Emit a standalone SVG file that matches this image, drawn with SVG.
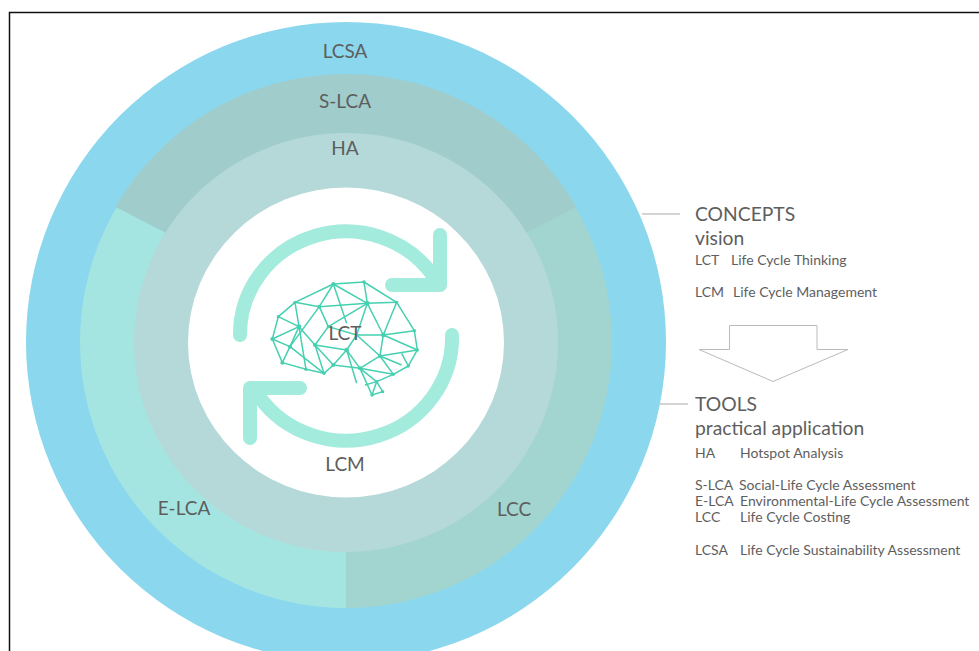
<svg xmlns="http://www.w3.org/2000/svg" width="979" height="651" viewBox="0 0 979 651">
<style>
text{font-family:Lato,"Liberation Sans",sans-serif;fill:#5e5e5e}
.m{font-size:19px;text-anchor:middle}
.h{font-size:19.3px}
.s{font-size:14px}
.b line{stroke:#45d0b0;stroke-width:4.5}
.b circle{fill:#45d0b0}
.a{fill:none;stroke:#a3ebdc;stroke-width:14;stroke-linecap:round;stroke-linejoin:round}
</style>
<rect width="979" height="651" fill="#fff"/>
<path d="M9.500 651V12.500H979" fill="none" stroke="#111" stroke-width="1.500"/>
<g id="connectors">
<path d="M642 214H680M660 404H688" fill="none" stroke="#aaa" stroke-width="1.200"/>
</g>
<g id="lcsa"><circle cx="346" cy="342" r="320" fill="#8ad7ee"/><text class="m" x="345" y="58">LCSA</text></g>
<g id="e-lca"><path d="M346 342L346 76A266 266 0 0 0 346 608Z" fill="#a5e5e1"/><text class="m" x="184" y="515">E-LCA</text></g>
<g id="lcc"><path d="M346 342L346 76A266 266 0 0 1 346 608Z" fill="#a3d5d0"/></g>
<g id="s-lca"><path d="M346 326L115.600 207A266 266 0 0 1 576.400 207Z" fill="#a0cdcc"/><text class="m" x="345" y="108">S-LCA</text></g>
<g id="ha"><ellipse cx="346" cy="342.500" rx="212" ry="209.500" fill="#b5d8d8"/><text class="m" x="345" y="155">HA</text></g>
<g id="lcm"><ellipse cx="346" cy="342.500" rx="158" ry="155" fill="#fff"/>
<path class="a" d="M240 335A106 103 0 0 1 434 277M440 235V285H392"/>
<path class="a" d="M452 335A106 103 0 0 1 258 395M300 388H250V438"/>
<text class="m" x="345" y="471">LCM</text></g>
<text class="m" x="514" y="516">LCC</text>
<g id="lct">
<g class="b" transform="translate(200 210) scale(.3333)">
<line x1="400" y1="222" x2="492" y2="216"/><line x1="492" y1="216" x2="590" y2="277"/><line x1="590" y1="277" x2="643" y2="362"/><line x1="643" y1="362" x2="652" y2="420"/><line x1="652" y1="420" x2="625" y2="468"/><line x1="625" y1="468" x2="580" y2="493"/><line x1="580" y1="493" x2="530" y2="515"/><line x1="530" y1="515" x2="548" y2="545"/><line x1="548" y1="545" x2="516" y2="555"/><line x1="516" y1="555" x2="480" y2="475"/><line x1="480" y1="475" x2="400" y2="465"/><line x1="400" y1="465" x2="372" y2="490"/><line x1="372" y1="490" x2="318" y2="478"/><line x1="318" y1="478" x2="247" y2="458"/><line x1="247" y1="458" x2="217" y2="387"/><line x1="217" y1="387" x2="235" y2="320"/><line x1="235" y1="320" x2="285" y2="277"/><line x1="285" y1="277" x2="400" y2="222"/>
<line x1="285" y1="277" x2="297" y2="350"/><line x1="235" y1="320" x2="297" y2="350"/><line x1="217" y1="387" x2="297" y2="350"/><line x1="217" y1="387" x2="270" y2="410"/><line x1="247" y1="458" x2="270" y2="410"/><line x1="270" y1="410" x2="297" y2="350"/><line x1="270" y1="410" x2="358" y2="290"/><line x1="285" y1="277" x2="358" y2="290"/><line x1="358" y1="290" x2="400" y2="222"/><line x1="358" y1="290" x2="502" y2="280"/><line x1="400" y1="222" x2="502" y2="280"/><line x1="492" y1="216" x2="502" y2="280"/><line x1="502" y1="280" x2="590" y2="277"/><line x1="502" y1="280" x2="550" y2="375"/><line x1="590" y1="277" x2="550" y2="375"/><line x1="550" y1="375" x2="643" y2="362"/><line x1="550" y1="375" x2="652" y2="420"/><line x1="550" y1="375" x2="540" y2="438"/><line x1="550" y1="375" x2="470" y2="375"/><line x1="502" y1="280" x2="470" y2="375"/><line x1="502" y1="280" x2="385" y2="350"/><line x1="400" y1="222" x2="440" y2="340"/><line x1="358" y1="290" x2="385" y2="350"/><line x1="385" y1="350" x2="470" y2="375"/><line x1="297" y1="350" x2="345" y2="405"/><line x1="345" y1="405" x2="385" y2="350"/><line x1="345" y1="405" x2="440" y2="420"/><line x1="470" y1="375" x2="440" y2="420"/><line x1="297" y1="350" x2="318" y2="478"/><line x1="270" y1="410" x2="372" y2="490"/><line x1="345" y1="405" x2="372" y2="490"/><line x1="345" y1="405" x2="400" y2="465"/><line x1="440" y1="420" x2="400" y2="465"/><line x1="440" y1="420" x2="480" y2="475"/><line x1="470" y1="375" x2="540" y2="438"/><line x1="540" y1="438" x2="480" y2="475"/><line x1="540" y1="438" x2="580" y2="493"/><line x1="540" y1="438" x2="652" y2="420"/><line x1="540" y1="438" x2="605" y2="465"/><line x1="625" y1="468" x2="605" y2="430"/><line x1="480" y1="475" x2="530" y2="515"/><line x1="480" y1="475" x2="580" y2="493"/><line x1="440" y1="420" x2="470" y2="520"/><line x1="495" y1="525" x2="530" y2="515"/><line x1="516" y1="555" x2="530" y2="515"/>
<circle cx="400" cy="222" r="6"/><circle cx="492" cy="216" r="5"/><circle cx="590" cy="277" r="5"/><circle cx="643" cy="362" r="5"/><circle cx="652" cy="420" r="5"/><circle cx="625" cy="468" r="5"/><circle cx="580" cy="493" r="5"/><circle cx="530" cy="515" r="5"/><circle cx="548" cy="545" r="5"/><circle cx="516" cy="555" r="5"/><circle cx="480" cy="475" r="6"/><circle cx="400" cy="465" r="6"/><circle cx="372" cy="490" r="5"/><circle cx="318" cy="478" r="5"/><circle cx="247" cy="458" r="6"/><circle cx="217" cy="387" r="6"/><circle cx="235" cy="320" r="5"/><circle cx="285" cy="277" r="5"/><circle cx="297" cy="350" r="7"/><circle cx="270" cy="410" r="6"/><circle cx="358" cy="290" r="6"/><circle cx="502" cy="280" r="7"/><circle cx="550" cy="375" r="7"/><circle cx="540" cy="438" r="6"/><circle cx="470" cy="375" r="5"/><circle cx="440" cy="420" r="7"/><circle cx="345" cy="405" r="6"/><circle cx="385" cy="350" r="5"/>
</g>
<text class="m" x="345" y="340">LCT</text>
</g>
<g id="concepts">
<text class="h" x="695" y="221">CONCEPTS</text>
<text class="h" x="695" y="245">vision</text>
<text class="s" x="695" y="265">LCT</text><text class="s" x="731" y="265">Life Cycle Thinking</text>
<text class="s" x="695" y="297">LCM</text><text class="s" x="733" y="297">Life Cycle Management</text>
</g>
<g id="arrow"><path d="M729.500 349.500V325.500H817V349.500H848L773 381.500L699 349.500Z" fill="#fff" stroke="#bbb" stroke-width="1"/></g>
<g id="tools">
<text class="h" x="695" y="411">TOOLS</text>
<text class="h" x="695" y="435">practical application</text>
<text class="s" x="695" y="458">HA</text><text class="s" x="740" y="458">Hotspot Analysis</text>
<text class="s" x="695" y="490">S-LCA</text><text class="s" x="739" y="490">Social-Life Cycle Assessment</text>
<text class="s" x="695" y="506">E-LCA</text><text class="s" x="740" y="506">Environmental-Life Cycle Assessment</text>
<text class="s" x="695" y="522">LCC</text><text class="s" x="740" y="522">Life Cycle Costing</text>
<text class="s" x="695" y="555">LCSA</text><text class="s" x="740" y="555">Life Cycle Sustainability Assessment</text>
</g>
</svg>
